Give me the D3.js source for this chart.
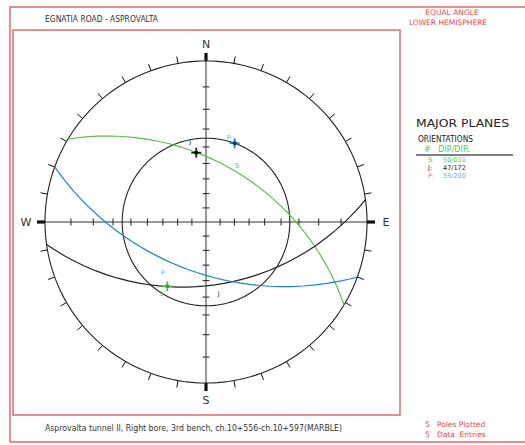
<!DOCTYPE html>
<html>
<head>
<meta charset="utf-8">
<script src="https://cdn.jsdelivr.net/npm/d3@7"></script>
<style>
  html, body { margin: 0; padding: 0; background: #fff; }
  svg { display: block; }
  text { font-family: "DejaVu Sans", "Liberation Sans", sans-serif; white-space: pre; }
</style>
</head>
<body>
<script>
// Joint set orientations (dip / dip direction, degrees)
const planeIds = ["S", "J", "P"];
const planeDips = [50, 47, 55];
const planeDipDirs = [31, 172, 200];

// Cone of friction angle (degrees)
const frictionAngle = 35;

// Tick values
const rimTickTrends = d3.range(0, 360, 10);
const axisTickAngles = d3.range(10, 90, 10);
const cardinalLabels = ["N", "E", "S", "W"];
const cardinalTrends = [0, 90, 180, 270];

// Counts shown in the footer
const polesPlotted = 5;
const dataEntries = 5;

// Styling
const planeCircleColors = ["#5cbf4c", "#222222", "#1f86c8"];
const planeTextColors = ["#46cf46", "#222222", "#43b6ea"];
const poleCenterColors = ["#3a9a3a", "#000000", "#17306b"];
const red = "#e5474b";
const border = "#e27373";

const W = 525, H = 445;
const svg = d3.select("body").append("svg").attr("width", W).attr("height", H);

// frames
svg.append("rect").attr("x", 10).attr("y", 7).attr("width", 530).attr("height", 435)
  .attr("fill", "none").attr("stroke", border).attr("stroke-width", 1.6);
svg.append("rect").attr("x", 13).attr("y", 30).attr("width", 387).attr("height", 385)
  .attr("fill", "none").attr("stroke", border).attr("stroke-width", 1.6);

// Equal angle (stereographic), lower hemisphere: lon = trend, lat = -plunge, nadir at centre
const R = 161, cx = 206, cy = 222;
const proj = d3.geoStereographic()
  .rotate([0, 90])
  .scale(R)
  .translate([cx, cy])
  .clipAngle(90.01)
  .precision(0.1);
const path = d3.geoPath(proj);

const g = svg.append("g");

// primitive circle
g.append("path").datum({ type: "Sphere" }).attr("d", path)
  .attr("fill", "none").attr("stroke", "#222").attr("stroke-width", 1.1);

// axes through the centre
const axisLine = (t1, t2) => {
  const a = proj([t1, 0]), b = proj([t2, 0]);
  g.append("line").attr("x1", a[0]).attr("y1", a[1]).attr("x2", b[0]).attr("y2", b[1])
    .attr("stroke", "#333").attr("stroke-width", 1);
};
axisLine(270, 90);
axisLine(0, 180);

// ticks along the axes at 10 degree intervals
cardinalTrends.forEach(t => {
  const rad = t * Math.PI / 180;
  const px = Math.cos(rad), py = Math.sin(rad); // perpendicular to the radial direction
  axisTickAngles.forEach(a => {
    const p = proj([t, -(90 - a)]);
    g.append("line")
      .attr("x1", p[0] - 3.5 * px).attr("y1", p[1] - 3.5 * py)
      .attr("x2", p[0] + 3.5 * px).attr("y2", p[1] + 3.5 * py)
      .attr("stroke", "#222").attr("stroke-width", 1);
  });
});

// ticks round the primitive
rimTickTrends.forEach(t => {
  const p = proj([t, 0]);
  const ux = (p[0] - cx) / R, uy = (p[1] - cy) / R;
  const cardinal = t % 90 === 0;
  const len = cardinal ? 8 : 7;
  g.append("line")
    .attr("x1", p[0]).attr("y1", p[1])
    .attr("x2", p[0] + len * ux).attr("y2", p[1] + len * uy)
    .attr("stroke", "#111").attr("stroke-width", cardinal ? 3.2 : 1);
});

// cardinal letters
cardinalTrends.forEach((t, i) => {
  const p = proj([t, 0]);
  const ux = (p[0] - cx) / R, uy = (p[1] - cy) / R;
  g.append("text")
    .attr("x", p[0] + 19 * ux).attr("y", p[1] + 17 * uy)
    .attr("text-anchor", "middle").attr("dominant-baseline", "central")
    .attr("font-size", 11).attr("fill", "#333")
    .text(cardinalLabels[i]);
});

// friction cone
g.append("path")
  .datum(d3.geoCircle().center([0, -90]).radius(90 - frictionAngle).precision(1)())
  .attr("d", path).attr("fill", "none").attr("stroke", "#222").attr("stroke-width", 1.1);

// great circles
planeIds.forEach((id, i) => {
  const dd = planeDipDirs[i], dip = planeDips[i];
  g.append("path")
    .datum({ type: "LineString", coordinates: [[dd - 90, 0], [dd, -dip], [dd + 90, 0]] })
    .attr("d", path).attr("fill", "none")
    .attr("stroke", planeCircleColors[i]).attr("stroke-width", 1.2);
});

// great circle labels, set just off the middle of each arc
const arcLabelOffsets = [[1, -6], [4, 9], [-26, 3]];
planeIds.forEach((id, i) => {
  const mid = proj([planeDipDirs[i], -planeDips[i]]);
  g.append("text")
    .attr("x", mid[0] + arcLabelOffsets[i][0]).attr("y", mid[1] + arcLabelOffsets[i][1])
    .attr("text-anchor", "middle").attr("dominant-baseline", "central")
    .attr("font-size", 6.5).attr("fill", planeTextColors[i]).text(id);
});

// poles
const poleLabelOffsets = [[-6, 8], [-6, -11], [-6, -5]];
planeIds.forEach((id, i) => {
  const p = proj([planeDipDirs[i] + 180, -(90 - planeDips[i])]);
  const c = planeCircleColors[i];
  g.append("line").attr("x1", p[0] - 5).attr("y1", p[1]).attr("x2", p[0] + 5).attr("y2", p[1])
    .attr("stroke", c).attr("stroke-width", 1.8);
  g.append("line").attr("x1", p[0]).attr("y1", p[1] - 5).attr("x2", p[0]).attr("y2", p[1] + 5)
    .attr("stroke", c).attr("stroke-width", 1.8);
  g.append("circle").attr("cx", p[0]).attr("cy", p[1]).attr("r", 2).attr("fill", poleCenterColors[i]);
  g.append("text")
    .attr("x", p[0] + poleLabelOffsets[i][0]).attr("y", p[1] + poleLabelOffsets[i][1])
    .attr("text-anchor", "middle").attr("dominant-baseline", "central")
    .attr("font-size", 6.5).attr("fill", planeTextColors[i]).text(id);
});

// header texts
svg.append("text").attr("x", 45).attr("y", 22).attr("font-size", 8).attr("fill", "#333")
  .attr("textLength", 113).attr("lengthAdjust", "spacingAndGlyphs")
  .text("EGNATIA ROAD - ASPROVALTA");
svg.append("text").attr("x", 452).attr("y", 15).attr("font-size", 7.5).attr("fill", red)
  .attr("text-anchor", "middle").text("EQUAL ANGLE");
svg.append("text").attr("x", 448).attr("y", 25).attr("font-size", 7.5).attr("fill", red)
  .attr("text-anchor", "middle").text("LOWER HEMISPHERE");

// legend
svg.append("text").attr("x", 416).attr("y", 127).attr("font-size", 10.5).attr("fill", "#222")
  .attr("textLength", 93).attr("lengthAdjust", "spacingAndGlyphs")
  .text("MAJOR PLANES");
svg.append("text").attr("x", 418).attr("y", 142).attr("font-size", 8).attr("fill", "#222")
  .attr("textLength", 55).attr("lengthAdjust", "spacingAndGlyphs")
  .text("ORIENTATIONS");
svg.append("text").attr("x", 424).attr("y", 152).attr("font-size", 8).attr("fill", planeTextColors[0])
  .text("#   DIP/DIR.");
svg.append("line").attr("x1", 416).attr("x2", 513).attr("y1", 155).attr("y2", 155)
  .attr("stroke", "#555").attr("stroke-width", 1.3);
planeIds.forEach((id, i) => {
  const y = 162 + i * 8;
  svg.append("text").attr("x", 428).attr("y", y).attr("font-size", 6.5).attr("fill", planeTextColors[i])
    .text(id + ":");
  svg.append("text").attr("x", 443).attr("y", y).attr("font-size", 6.5).attr("fill", planeTextColors[i])
    .text(d3.format("02d")(planeDips[i]) + "/" + d3.format("03d")(planeDipDirs[i]));
});

// footer
svg.append("text").attr("x", 45).attr("y", 431).attr("font-size", 8).attr("fill", "#333")
  .attr("textLength", 297).attr("lengthAdjust", "spacingAndGlyphs")
  .text("Asprovalta tunnel II, Right bore, 3rd bench, ch.10+556-ch.10+597(MARBLE)");
svg.append("text").attr("x", 425).attr("y", 427).attr("font-size", 7.5).attr("fill", red)
  .text(polesPlotted + "   Poles Plotted");
svg.append("text").attr("x", 425).attr("y", 437).attr("font-size", 7.5).attr("fill", red)
  .text(dataEntries + "   Data  Entries");
</script>
</body>
</html>
